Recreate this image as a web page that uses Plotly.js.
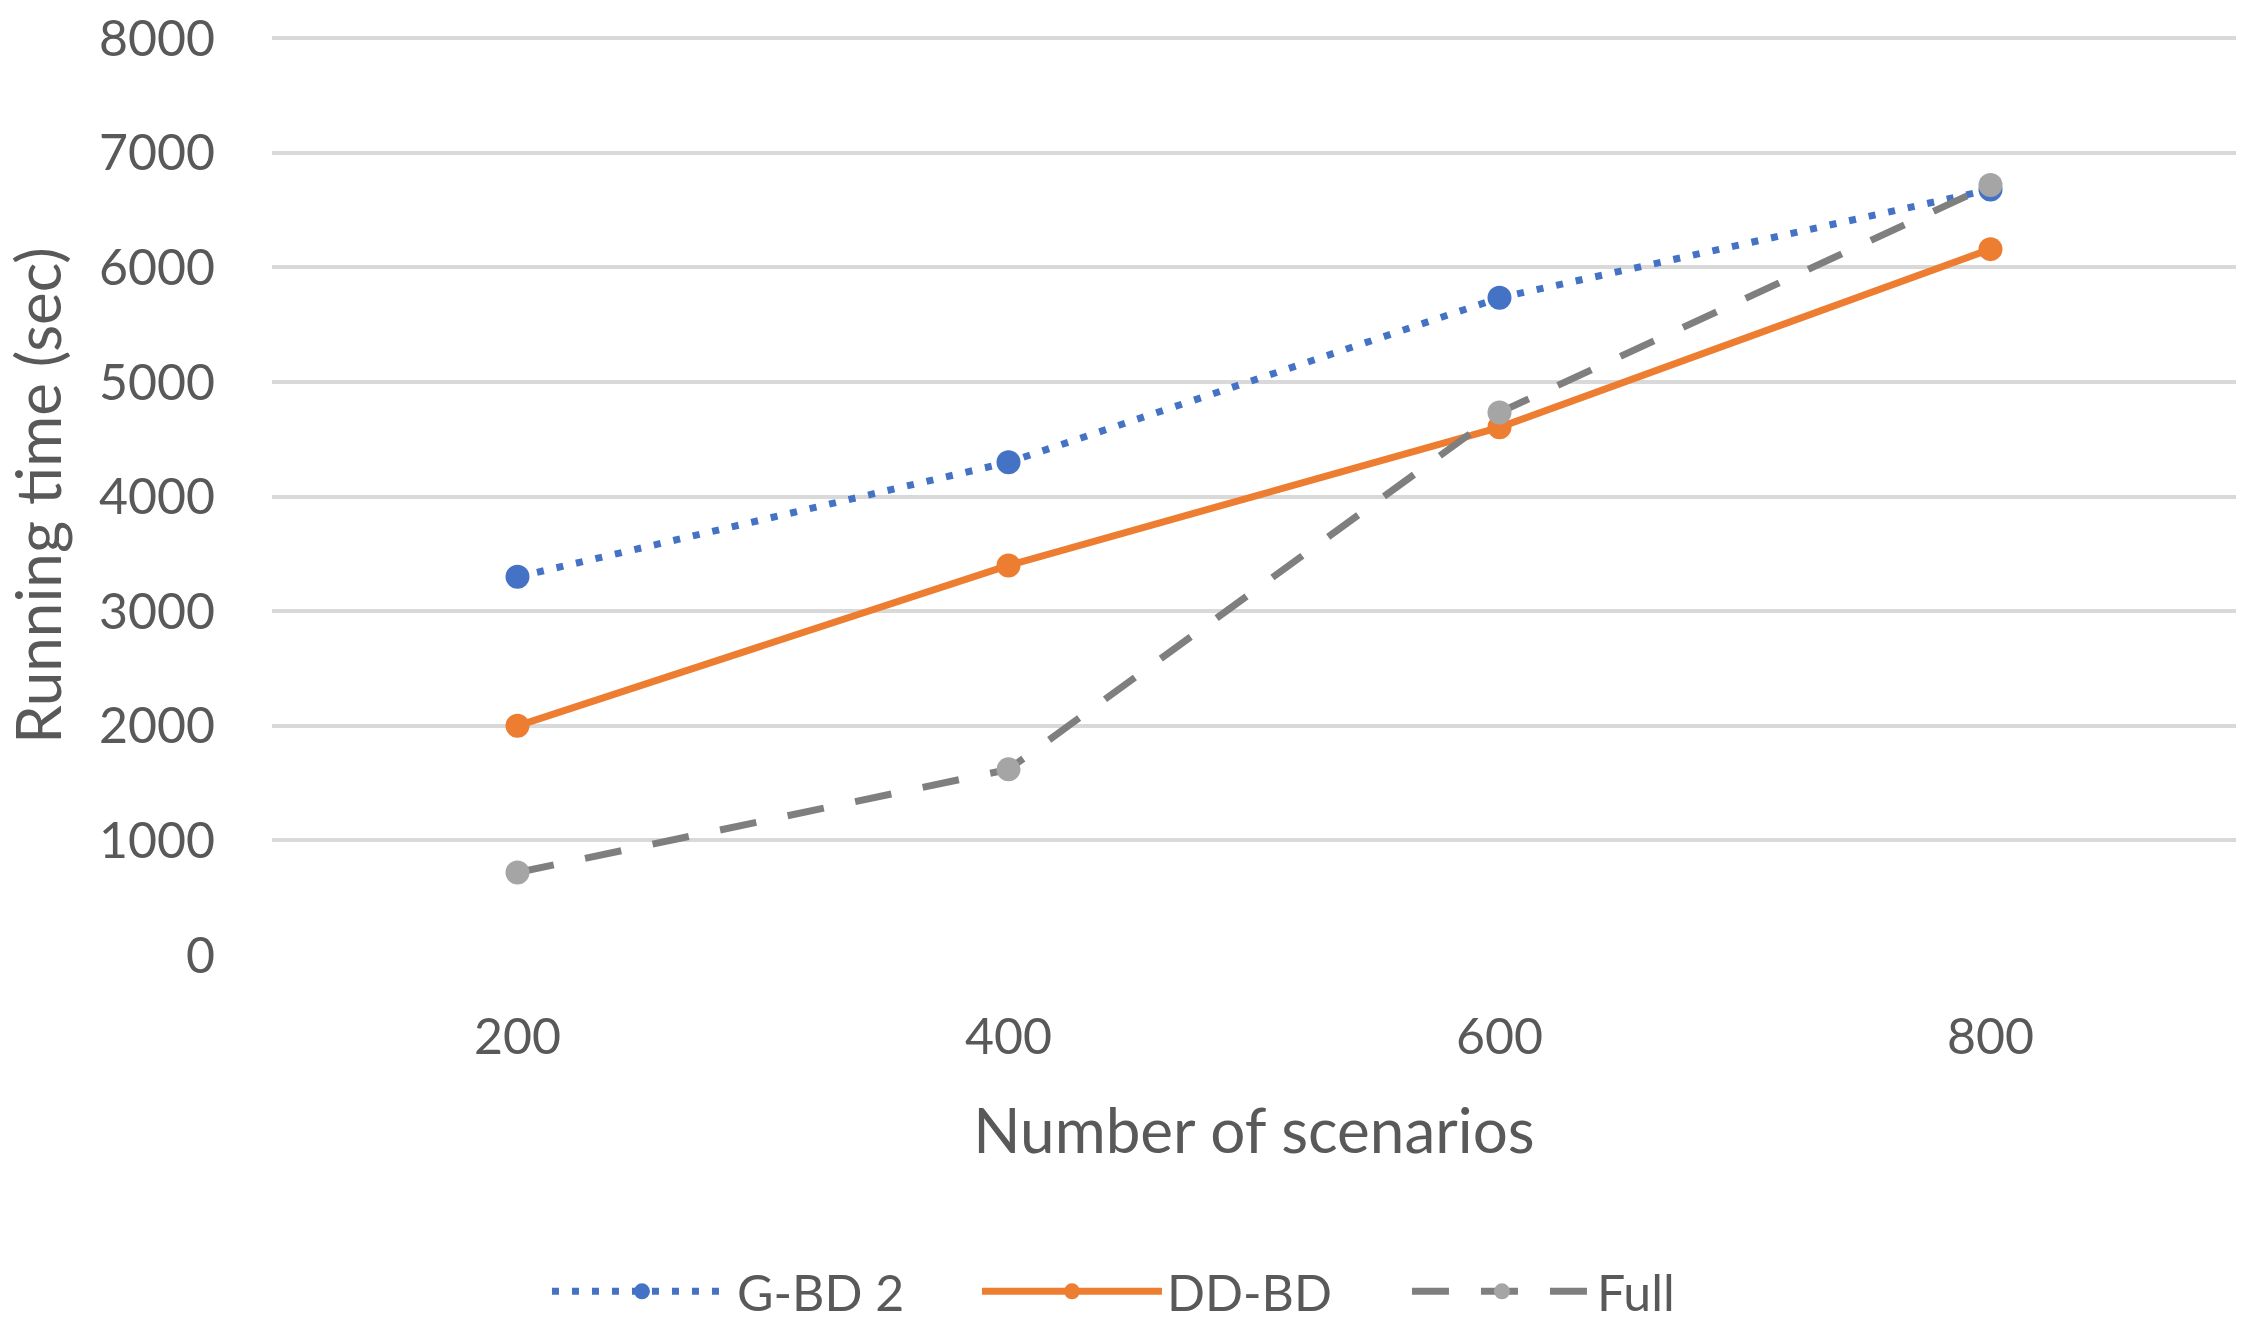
<!DOCTYPE html>
<html>
<head>
<meta charset="utf-8">
<script src="https://cdn.plot.ly/plotly-3.0.1.min.js"></script>
<style>html,body{margin:0;padding:0;background:#fff;}#chart{width:2245px;height:1340px;}</style>
</head>
<body>
<div id="chart"></div>
<script>
const scenarios = ['200', '400', '600', '800'];
const gbd2 = [3300, 4300, 5735, 6680];
const ddbd = [2000, 3400, 4605, 6160];
const full = [720, 1620, 4735, 6720];
const seriesNames = ['G-BD 2', 'DD-BD', 'Full'];
const yTicks = [0, 1000, 2000, 3000, 4000, 5000, 6000, 7000, 8000];

const FONT = 'Lato, "Open Sans", sans-serif';
const TXT = '#595959';

const traces = [
  {
    x: scenarios, y: gbd2, name: seriesNames[0], type: 'scatter', mode: 'lines+markers',
    line: {color: '#4472C4', width: 7, dash: '7px,13px'},
    marker: {color: '#4472C4', size: 24}
  },
  {
    x: scenarios, y: ddbd, name: seriesNames[1], type: 'scatter', mode: 'lines+markers',
    line: {color: '#ED7D31', width: 7},
    marker: {color: '#ED7D31', size: 24}
  },
  {
    x: scenarios, y: full, name: seriesNames[2], type: 'scatter', mode: 'lines+markers',
    line: {color: '#7F7F7F', width: 7, dash: '37px,32px'},
    marker: {color: '#A5A5A5', size: 24}
  }
];

const layout = {
  width: 2245, height: 1340,
  margin: {l: 272, r: 9, t: 36, b: 383},
  paper_bgcolor: '#ffffff', plot_bgcolor: '#ffffff',
  font: {family: FONT, color: TXT, size: 50},
  showlegend: true,
  legend: {
    orientation: 'h', x: 0.140, xanchor: 'left',
    y: -0.366, yanchor: 'middle',
    font: {family: FONT, size: 50, color: TXT},
    itemwidth: 180, entrywidth: 235, entrywidthmode: 'pixels',
    traceorder: 'normal', bgcolor: 'rgba(0,0,0,0)'
  },
  xaxis: {
    type: 'category', range: [-0.5, 3.5],
    showgrid: false, zeroline: false, showline: false,
    ticks: 'outside', ticklen: 38, tickcolor: 'rgba(0,0,0,0)',
    tickfont: {family: FONT, size: 50, color: TXT},
    title: {text: 'Number of scenarios', font: {family: FONT, size: 62, color: TXT}, standoff: 45}
  },
  yaxis: {
    range: [0, 8020], tickvals: yTicks, ticktext: yTicks.map(String),
    showgrid: true, gridcolor: '#D9D9D9', gridwidth: 4,
    zeroline: false, showline: false,
    ticks: 'outside', ticklen: 46, tickcolor: 'rgba(0,0,0,0)',
    tickfont: {family: FONT, size: 50, color: TXT},
    title: {text: 'Running time (sec)', font: {family: FONT, size: 62, color: TXT}, standoff: 18}
  }
};

Plotly.newPlot('chart', traces, layout, {displayModeBar: false, staticPlot: true});
</script>
</body>
</html>
